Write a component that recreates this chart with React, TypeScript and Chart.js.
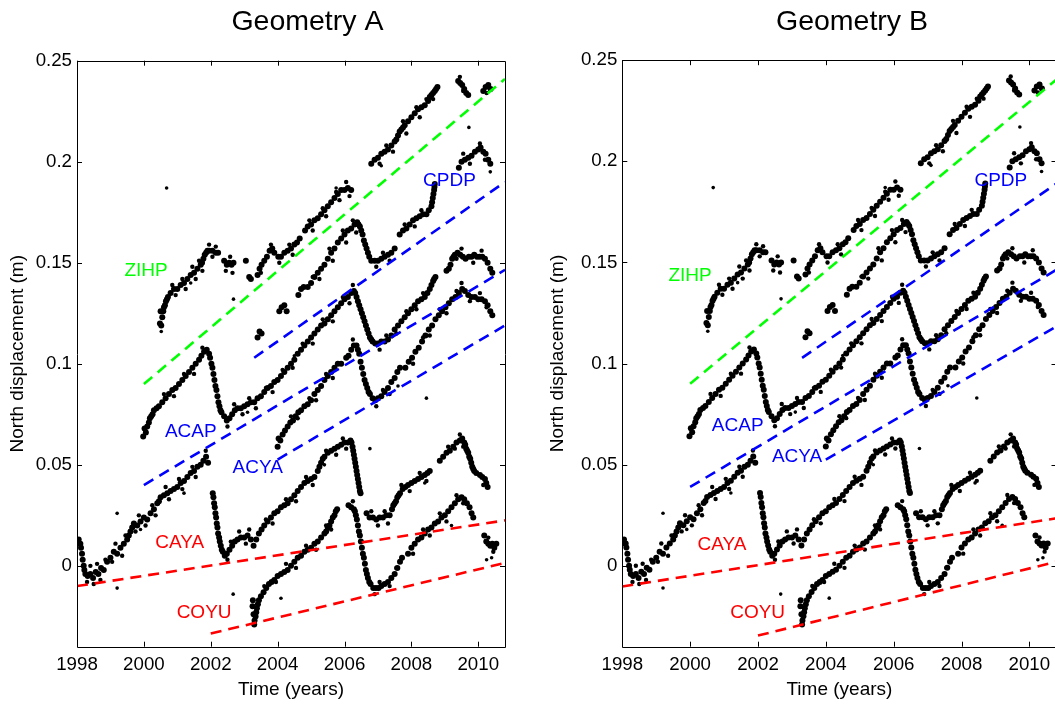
import React, { useEffect, useRef } from 'react';
import { Chart, registerables } from 'chart.js';

Chart.register(...registerables);

type P = [number, number];

const X_TICKS = [1998, 2000, 2002, 2004, 2006, 2008, 2010];
const Y_TICKS = [0, 0.05, 0.1, 0.15, 0.2, 0.25];

const ZIHP: P[] = [
  [2000.48, 0.120], [2000.50, 0.126], [2000.52, 0.119], [2000.55, 0.123], [2000.58, 0.126], [2000.60, 0.128],
  [2000.63, 0.129], [2000.66, 0.131], [2000.69, 0.132], [2000.72, 0.133],
  [2000.80, 0.135], [2000.90, 0.137], [2001.00, 0.137], [2001.10, 0.139], [2001.20, 0.140], [2001.30, 0.142],
  [2001.40, 0.144], [2001.50, 0.145], [2001.60, 0.147], [2001.70, 0.149], [2001.74, 0.150], [2001.78, 0.152],
  [2001.82, 0.154], [2001.86, 0.155], [2001.90, 0.156],
  [2001.95, 0.156], [2002.05, 0.156], [2002.15, 0.155], [2002.22, 0.155], [2002.40, 0.151], [2002.48, 0.149],
  [2002.55, 0.150], [2002.62, 0.149], [2002.68, 0.150],
  [2003.05, 0.151], [2003.15, 0.143], [2003.20, 0.142], [2003.40, 0.144], [2003.46, 0.147], [2003.52, 0.149],
  [2003.60, 0.151], [2003.68, 0.153], [2003.76, 0.156], [2003.84, 0.157], [2003.90, 0.155], [2004.02, 0.153],
  [2004.10, 0.153], [2004.20, 0.155], [2004.30, 0.156], [2004.40, 0.157], [2004.50, 0.159], [2004.58, 0.160],
  [2004.66, 0.162],
  [2004.82, 0.166], [2004.90, 0.168], [2005.00, 0.169], [2005.10, 0.171], [2005.20, 0.172], [2005.30, 0.174],
  [2005.40, 0.176], [2005.50, 0.178], [2005.60, 0.180], [2005.70, 0.182], [2005.80, 0.184], [2005.90, 0.186],
  [2006.00, 0.186], [2006.10, 0.187], [2006.20, 0.186],
  [2006.80, 0.199], [2006.90, 0.201], [2007.00, 0.202], [2007.10, 0.204], [2007.20, 0.205], [2007.30, 0.206],
  [2007.40, 0.208], [2007.50, 0.210], [2007.55, 0.211], [2007.60, 0.213], [2007.65, 0.215], [2007.70, 0.216],
  [2007.75, 0.217], [2007.80, 0.218], [2007.90, 0.220],
  [2008.00, 0.222], [2008.10, 0.224], [2008.20, 0.226], [2008.30, 0.227], [2008.40, 0.228], [2008.50, 0.230],
  [2008.55, 0.232], [2008.60, 0.233], [2008.65, 0.234], [2008.70, 0.235], [2008.74, 0.236], [2008.78, 0.237],
  [2009.40, 0.240], [2009.46, 0.239], [2009.52, 0.238], [2009.58, 0.236], [2009.64, 0.234], [2009.70, 0.233],
  [2010.15, 0.235], [2010.22, 0.237], [2010.30, 0.238], [2010.37, 0.236],
];

const CPDP: P[] = [
  [2003.40, 0.113], [2003.46, 0.116], [2003.52, 0.115],
  [2004.05, 0.126], [2004.12, 0.128], [2004.20, 0.129], [2004.27, 0.126],
  [2004.62, 0.134], [2004.70, 0.137], [2004.78, 0.138],
  [2004.90, 0.138], [2005.00, 0.140], [2005.10, 0.143], [2005.20, 0.145], [2005.30, 0.147], [2005.40, 0.149],
  [2005.50, 0.152], [2005.60, 0.155], [2005.70, 0.157], [2005.80, 0.160], [2005.90, 0.162], [2006.00, 0.164],
  [2006.10, 0.166], [2006.20, 0.167], [2006.30, 0.169], [2006.38, 0.170], [2006.42, 0.169], [2006.46, 0.168],
  [2006.50, 0.166], [2006.54, 0.164], [2006.58, 0.161], [2006.62, 0.159], [2006.66, 0.157], [2006.70, 0.155],
  [2006.74, 0.153], [2006.80, 0.151], [2006.90, 0.151], [2007.00, 0.151], [2007.10, 0.152],
  [2007.20, 0.153], [2007.30, 0.154], [2007.40, 0.155], [2007.50, 0.157],
  [2007.65, 0.164], [2007.75, 0.166], [2007.85, 0.167], [2007.95, 0.169], [2008.05, 0.171], [2008.15, 0.172],
  [2008.25, 0.173], [2008.35, 0.174], [2008.45, 0.174], [2008.52, 0.176], [2008.60, 0.178], [2008.62, 0.180],
  [2008.64, 0.182], [2008.66, 0.184], [2008.68, 0.186], [2008.69, 0.1875], [2008.70, 0.189],
  [2009.42, 0.197], [2009.50, 0.200], [2009.60, 0.201], [2009.70, 0.202], [2009.80, 0.203], [2009.90, 0.205],
  [2010.00, 0.206], [2010.07, 0.207], [2010.15, 0.205], [2010.22, 0.204], [2010.30, 0.201], [2010.36, 0.199],
];

const ACAP: P[] = [
  [1999.98, 0.064], [2000.02, 0.068], [2000.06, 0.066], [2000.10, 0.069], [2000.15, 0.071], [2000.18, 0.073],
  [2000.22, 0.074], [2000.26, 0.075], [2000.30, 0.077],
  [2000.38, 0.078], [2000.45, 0.079], [2000.55, 0.081], [2000.65, 0.083], [2000.75, 0.085], [2000.85, 0.087],
  [2000.95, 0.088], [2001.05, 0.090], [2001.15, 0.092], [2001.25, 0.094], [2001.35, 0.096], [2001.45, 0.098],
  [2001.55, 0.100], [2001.65, 0.102], [2001.72, 0.104], [2001.80, 0.106], [2001.88, 0.107], [2001.95, 0.105],
  [2001.98, 0.103], [2002.02, 0.100], [2002.05, 0.098], [2002.08, 0.095], [2002.11, 0.092], [2002.14, 0.089],
  [2002.17, 0.087], [2002.20, 0.084], [2002.23, 0.081], [2002.26, 0.079], [2002.29, 0.077], [2002.32, 0.076],
  [2002.40, 0.074], [2002.48, 0.072], [2002.56, 0.073], [2002.64, 0.075], [2002.72, 0.077], [2002.80, 0.078],
  [2002.90, 0.078], [2003.00, 0.079], [2003.10, 0.080], [2003.20, 0.081], [2003.30, 0.081], [2003.40, 0.083],
  [2003.50, 0.084], [2003.60, 0.086], [2003.70, 0.088], [2003.80, 0.089], [2003.90, 0.091], [2004.00, 0.092],
  [2004.10, 0.094], [2004.20, 0.096], [2004.30, 0.098], [2004.40, 0.100], [2004.50, 0.102], [2004.60, 0.105],
  [2004.70, 0.107], [2004.80, 0.109], [2004.90, 0.111], [2005.00, 0.113], [2005.10, 0.115], [2005.20, 0.117],
  [2005.30, 0.119], [2005.40, 0.120], [2005.50, 0.122], [2005.60, 0.124], [2005.70, 0.126], [2005.80, 0.128],
  [2005.90, 0.130], [2006.00, 0.132], [2006.10, 0.133], [2006.20, 0.135], [2006.28, 0.136], [2006.32, 0.135],
  [2006.36, 0.133], [2006.40, 0.131], [2006.44, 0.129], [2006.48, 0.127], [2006.52, 0.125], [2006.56, 0.123],
  [2006.60, 0.121], [2006.64, 0.119], [2006.68, 0.117], [2006.72, 0.115], [2006.76, 0.113], [2006.80, 0.112],
  [2006.84, 0.111], [2006.92, 0.110], [2007.00, 0.110], [2007.10, 0.111], [2007.20, 0.111], [2007.30, 0.112],
  [2007.40, 0.114], [2007.50, 0.117], [2007.60, 0.119], [2007.70, 0.121], [2007.80, 0.123], [2007.90, 0.125],
  [2008.00, 0.127], [2008.10, 0.129], [2008.20, 0.131], [2008.30, 0.132], [2008.40, 0.133], [2008.48, 0.135],
  [2008.55, 0.137], [2008.60, 0.139], [2008.65, 0.141], [2008.68, 0.142], [2008.72, 0.143],
  [2009.05, 0.146], [2009.12, 0.147], [2009.17, 0.149], [2009.22, 0.152], [2009.26, 0.153], [2009.30, 0.154],
  [2009.38, 0.155], [2009.46, 0.154],
  [2009.54, 0.153], [2009.62, 0.152], [2009.72, 0.153], [2009.80, 0.153], [2009.88, 0.154], [2009.96, 0.153],
  [2010.04, 0.153], [2010.12, 0.153], [2010.20, 0.152], [2010.28, 0.150], [2010.36, 0.147], [2010.42, 0.145],
];

const ACYA: P[] = [
  [2004.00, 0.059], [2004.03, 0.063], [2004.08, 0.062], [2004.15, 0.065], [2004.22, 0.067], [2004.30, 0.069],
  [2004.38, 0.071], [2004.46, 0.072], [2004.54, 0.074], [2004.62, 0.076], [2004.70, 0.077], [2004.80, 0.079],
  [2004.90, 0.080], [2005.00, 0.082], [2005.10, 0.085], [2005.20, 0.087], [2005.30, 0.089], [2005.40, 0.092],
  [2005.50, 0.094], [2005.60, 0.096], [2005.70, 0.098], [2005.80, 0.100], [2005.90, 0.100],
  [2006.05, 0.103], [2006.12, 0.104], [2006.20, 0.107], [2006.28, 0.109], [2006.36, 0.109], [2006.40, 0.107],
  [2006.44, 0.105], [2006.48, 0.101], [2006.52, 0.098], [2006.56, 0.095], [2006.60, 0.092], [2006.64, 0.090],
  [2006.68, 0.088], [2006.72, 0.086], [2006.76, 0.085], [2006.84, 0.083], [2006.92, 0.082],
  [2007.00, 0.083], [2007.10, 0.084], [2007.20, 0.086], [2007.30, 0.088], [2007.40, 0.091], [2007.50, 0.093],
  [2007.58, 0.096], [2007.66, 0.098],
  [2007.82, 0.098], [2007.92, 0.101], [2008.02, 0.103], [2008.12, 0.106], [2008.22, 0.108], [2008.32, 0.111],
  [2008.42, 0.114], [2008.52, 0.117], [2008.62, 0.119], [2008.72, 0.122], [2008.82, 0.124], [2008.92, 0.126],
  [2009.02, 0.128], [2009.12, 0.130], [2009.22, 0.132], [2009.32, 0.133], [2009.42, 0.135], [2009.52, 0.137],
  [2009.60, 0.136], [2009.70, 0.134], [2009.80, 0.133], [2009.90, 0.133], [2010.00, 0.132], [2010.10, 0.132],
  [2010.20, 0.131], [2010.28, 0.129], [2010.36, 0.126], [2010.42, 0.124],
];

const CAYA: P[] = [
  [1998.00, 0.011], [1998.05, 0.013], [1998.10, 0.011], [1998.12, 0.009], [1998.15, 0.006], [1998.17, 0.003],
  [1998.20, 0.000], [1998.22, -0.002], [1998.25, -0.004],
  [1998.32, -0.005], [1998.40, -0.004], [1998.48, -0.006], [1998.56, -0.003], [1998.64, -0.004], [1998.72, -0.001],
  [1998.80, -0.002], [1998.90, 0.002], [1999.00, 0.004], [1999.10, 0.007], [1999.20, 0.006], [1999.30, 0.009],
  [1999.40, 0.011], [1999.50, 0.013], [1999.55, 0.015], [1999.60, 0.017], [1999.65, 0.019], [1999.70, 0.021],
  [1999.80, 0.020], [1999.90, 0.022],
  [2000.00, 0.024], [2000.10, 0.023], [2000.20, 0.026], [2000.30, 0.028], [2000.40, 0.031], [2000.45, 0.032],
  [2000.50, 0.034],
  [2000.60, 0.035], [2000.70, 0.036], [2000.80, 0.037], [2000.90, 0.038], [2001.00, 0.039], [2001.10, 0.041],
  [2001.20, 0.042], [2001.30, 0.044], [2001.40, 0.046], [2001.50, 0.047], [2001.60, 0.049], [2001.70, 0.050],
  [2001.78, 0.052], [2001.86, 0.054], [2001.92, 0.051],
  [2002.06, 0.036], [2002.08, 0.034], [2002.10, 0.031], [2002.12, 0.029], [2002.14, 0.026], [2002.16, 0.024],
  [2002.18, 0.021], [2002.20, 0.019], [2002.22, 0.016], [2002.25, 0.014], [2002.27, 0.012], [2002.30, 0.010],
  [2002.33, 0.008], [2002.36, 0.007], [2002.42, 0.005], [2002.48, 0.006], [2002.56, 0.008], [2002.64, 0.010],
  [2002.72, 0.012],
  [2002.80, 0.013], [2002.90, 0.014], [2003.00, 0.014], [2003.10, 0.015], [2003.20, 0.013], [2003.28, 0.010],
  [2003.36, 0.013], [2003.44, 0.016], [2003.52, 0.018], [2003.60, 0.020], [2003.70, 0.022], [2003.80, 0.024],
  [2003.90, 0.026], [2004.00, 0.027], [2004.10, 0.029], [2004.20, 0.030], [2004.30, 0.031], [2004.40, 0.033],
  [2004.50, 0.035], [2004.60, 0.037], [2004.70, 0.039], [2004.80, 0.041], [2004.90, 0.042], [2005.00, 0.043],
  [2005.10, 0.044], [2005.20, 0.047], [2005.25, 0.049], [2005.30, 0.051], [2005.35, 0.053], [2005.40, 0.054],
  [2005.50, 0.056], [2005.60, 0.057],
  [2005.70, 0.058], [2005.80, 0.059], [2005.90, 0.060], [2006.00, 0.061], [2006.10, 0.061], [2006.18, 0.062],
  [2006.21, 0.061], [2006.24, 0.059], [2006.26, 0.057], [2006.28, 0.055], [2006.30, 0.053], [2006.32, 0.051],
  [2006.34, 0.049], [2006.36, 0.047], [2006.38, 0.045], [2006.40, 0.043], [2006.42, 0.041], [2006.44, 0.039],
  [2006.46, 0.037], [2006.48, 0.036],
  [2006.66, 0.026], [2006.75, 0.024], [2006.85, 0.024], [2006.95, 0.023], [2007.05, 0.024], [2007.15, 0.024],
  [2007.25, 0.025], [2007.35, 0.025], [2007.42, 0.028], [2007.46, 0.030], [2007.50, 0.031], [2007.54, 0.032],
  [2007.58, 0.034], [2007.62, 0.035], [2007.66, 0.036],
  [2007.74, 0.038], [2007.82, 0.039], [2007.90, 0.040], [2008.00, 0.041], [2008.10, 0.042], [2008.20, 0.043],
  [2008.30, 0.044], [2008.40, 0.045], [2008.48, 0.046], [2008.55, 0.047],
  [2008.85, 0.052], [2008.95, 0.054], [2009.05, 0.056], [2009.15, 0.057], [2009.25, 0.059], [2009.35, 0.061],
  [2009.45, 0.062], [2009.52, 0.063], [2009.58, 0.061], [2009.61, 0.060], [2009.64, 0.058], [2009.67, 0.057],
  [2009.70, 0.056], [2009.73, 0.054], [2009.76, 0.053], [2009.79, 0.051], [2009.82, 0.049], [2009.85, 0.048],
  [2009.88, 0.047], [2009.94, 0.046],
  [2010.05, 0.045], [2010.12, 0.044], [2010.20, 0.043], [2010.24, 0.041], [2010.28, 0.039],
];

const COYU: P[] = [
  [2003.25, -0.020], [2003.26, -0.017], [2003.28, -0.024], [2003.30, -0.029], [2003.31, -0.027], [2003.34, -0.025],
  [2003.36, -0.023], [2003.38, -0.021], [2003.41, -0.019], [2003.44, -0.017],
  [2003.50, -0.015], [2003.58, -0.013], [2003.66, -0.011], [2003.74, -0.009], [2003.82, -0.008], [2003.90, -0.007],
  [2004.00, -0.005], [2004.10, -0.004], [2004.20, -0.003], [2004.30, -0.002], [2004.40, 0.000], [2004.50, 0.002],
  [2004.60, 0.004], [2004.70, 0.005], [2004.80, 0.007], [2004.90, 0.008], [2005.00, 0.009], [2005.10, 0.011],
  [2005.20, 0.012], [2005.30, 0.014], [2005.40, 0.016], [2005.45, 0.017], [2005.50, 0.019], [2005.55, 0.020],
  [2005.60, 0.022], [2005.65, 0.024], [2005.70, 0.025], [2005.74, 0.027], [2005.78, 0.028],
  [2006.12, 0.030], [2006.20, 0.029], [2006.28, 0.028], [2006.31, 0.027], [2006.34, 0.025], [2006.37, 0.023],
  [2006.40, 0.020], [2006.43, 0.017], [2006.46, 0.015], [2006.49, 0.012], [2006.52, 0.009], [2006.55, 0.006],
  [2006.58, 0.004], [2006.61, 0.001], [2006.64, -0.002], [2006.67, -0.004], [2006.70, -0.006], [2006.74, -0.008],
  [2006.78, -0.009], [2006.86, -0.011],
  [2006.94, -0.011], [2007.02, -0.011], [2007.10, -0.010], [2007.20, -0.009], [2007.30, -0.008], [2007.40, -0.006],
  [2007.50, -0.004], [2007.58, -0.001], [2007.66, 0.002], [2007.72, 0.004],
  [2007.90, 0.006], [2008.00, 0.009], [2008.10, 0.011], [2008.20, 0.013], [2008.30, 0.014], [2008.40, 0.016],
  [2008.50, 0.018], [2008.60, 0.019], [2008.70, 0.021], [2008.80, 0.022], [2008.90, 0.024], [2009.00, 0.025],
  [2009.10, 0.027], [2009.20, 0.029], [2009.30, 0.031], [2009.40, 0.033], [2009.50, 0.034], [2009.58, 0.033],
  [2009.66, 0.031], [2009.74, 0.029], [2009.80, 0.026], [2009.85, 0.024],
  [2010.18, 0.015], [2010.24, 0.012], [2010.30, 0.011], [2010.36, 0.010], [2010.42, 0.011], [2010.48, 0.009],
  [2010.54, 0.011],
];

// scattered observations at the edges of each band
const SPREAD: P[] = [
  // ZIHP
  [2000.85, 0.139], [2000.95, 0.134], [2001.15, 0.142], [2001.25, 0.137], [2001.45, 0.148], [2001.55, 0.142],
  [2001.65, 0.151], [2001.75, 0.146], [2001.95, 0.159], [2002.05, 0.153], [2002.15, 0.158], [2002.45, 0.146],
  [2002.58, 0.153], [2002.65, 0.145], [2003.50, 0.145], [2003.80, 0.159], [2004.05, 0.150], [2004.35, 0.159],
  [2004.45, 0.154], [2004.95, 0.171], [2005.05, 0.166], [2005.35, 0.177], [2005.45, 0.173], [2005.75, 0.185],
  [2005.85, 0.181], [2006.05, 0.190], [2006.15, 0.183], [2007.05, 0.199], [2007.25, 0.208], [2007.45, 0.205],
  [2007.75, 0.220], [2007.85, 0.214], [2008.15, 0.227], [2008.25, 0.222], [2008.45, 0.231], [2008.65, 0.231],
  [2009.45, 0.242], [2009.55, 0.235], [2010.25, 0.234],
  // CPDP
  [2005.05, 0.143], [2005.25, 0.142], [2005.55, 0.157], [2005.65, 0.151], [2005.95, 0.166], [2006.05, 0.160],
  [2006.25, 0.171], [2006.35, 0.165], [2006.95, 0.148], [2007.15, 0.155], [2007.35, 0.151], [2007.80, 0.169],
  [2008.10, 0.168], [2008.30, 0.176], [2009.55, 0.204], [2009.75, 0.199], [2010.05, 0.209], [2010.20, 0.201],
  // ACAP
  [2000.60, 0.085], [2000.90, 0.084], [2001.20, 0.095], [2001.50, 0.095], [2001.75, 0.108], [2002.50, 0.069],
  [2002.70, 0.080], [2002.95, 0.075], [2003.15, 0.083], [2003.35, 0.078], [2003.65, 0.088], [2003.85, 0.086],
  [2004.15, 0.097], [2004.45, 0.098], [2004.75, 0.110], [2005.05, 0.110], [2005.35, 0.122], [2005.65, 0.121],
  [2005.95, 0.133], [2006.15, 0.130], [2006.25, 0.139], [2007.05, 0.107], [2007.25, 0.114], [2007.55, 0.115],
  [2007.85, 0.126], [2008.15, 0.127], [2008.35, 0.135], [2009.35, 0.152], [2009.50, 0.157], [2009.85, 0.150],
  [2010.10, 0.156],
  // ACYA
  [2004.40, 0.074], [2004.60, 0.073], [2004.95, 0.083], [2005.15, 0.082], [2005.45, 0.095], [2005.65, 0.093],
  [2006.25, 0.112], [2006.95, 0.079], [2007.15, 0.087], [2007.35, 0.085], [2008.05, 0.100], [2008.35, 0.113],
  [2008.55, 0.114], [2008.85, 0.127], [2009.05, 0.125], [2009.35, 0.136], [2009.50, 0.140], [2009.75, 0.131],
  [2010.05, 0.135], [2010.25, 0.128],
  // CAYA
  [1998.30, -0.008], [1998.40, 0.000], [1998.50, -0.009], [1998.60, 0.001], [1998.70, -0.007], [1998.85, 0.003],
  [1999.05, 0.002], [1999.15, 0.011], [1999.35, 0.005], [1999.45, 0.015], [1999.75, 0.017], [1999.85, 0.025],
  [2000.05, 0.020], [2000.25, 0.030], [2000.35, 0.025], [2000.65, 0.039], [2000.75, 0.033], [2001.05, 0.043],
  [2001.15, 0.038], [2001.45, 0.049], [2001.55, 0.044], [2001.85, 0.057], [2002.50, 0.003], [2002.60, 0.012],
  [2002.85, 0.017], [2003.05, 0.011], [2003.15, 0.018], [2003.65, 0.023], [2003.85, 0.021], [2004.25, 0.033],
  [2004.55, 0.032], [2004.85, 0.044], [2005.05, 0.040], [2005.45, 0.057], [2005.75, 0.055], [2005.95, 0.063],
  [2006.05, 0.058], [2006.80, 0.027], [2007.00, 0.020], [2007.20, 0.027], [2007.30, 0.021], [2007.70, 0.040],
  [2007.95, 0.037], [2008.25, 0.046], [2008.45, 0.042], [2009.10, 0.059], [2009.30, 0.058], [2009.45, 0.065],
  [2009.55, 0.059], [2010.15, 0.040],
  // COYU
  [2003.60, -0.010], [2003.95, -0.008], [2004.25, 0.001], [2004.55, -0.001], [2004.85, 0.010], [2005.15, 0.008],
  [2005.45, 0.020], [2005.60, 0.018], [2006.25, 0.032], [2006.90, -0.014], [2007.05, -0.008], [2007.35, -0.010],
  [2007.55, -0.001], [2008.05, 0.006], [2008.35, 0.018], [2008.55, 0.015], [2008.85, 0.026], [2009.05, 0.022],
  [2009.35, 0.035], [2009.55, 0.031], [2010.30, 0.014], [2010.45, 0.007],
];

const OUTLIERS: P[] = [
  [2000.68, 0.187], [2002.68, 0.132], [2009.72, 0.217], [2010.36, 0.195], [1999.20, 0.026], [1999.20, -0.011],
  [2002.67, -0.014], [2004.10, -0.016], [2008.45, 0.083], [2010.25, 0.003], [2010.40, 0.004], [2006.76, 0.058],
  [2000.52, 0.116], [2001.40, 0.140], [2005.75, 0.187], [2007.10, 0.198], [2003.10, 0.076], [2004.50, 0.104],
  [2007.60, 0.089], [2008.40, 0.041], [2005.40, 0.050], [2001.20, 0.036], [1999.90, 0.018], [2009.20, 0.020],
];

// ---- dashed reference lines (start, end) ----
const FIT_A = {
  ZIHP: [[2000, 0.090], [2010.8, 0.241]] as P[],
  CPDP: [[2003.3, 0.103], [2010.8, 0.190]] as P[],
  ACAP: [[2000, 0.040], [2010.8, 0.1465]] as P[],
  ACYA: [[2004, 0.0526], [2010.8, 0.119]] as P[],
  CAYA: [[1998, -0.010], [2010.8, 0.0225]] as P[],
  COYU: [[2002, -0.0335], [2010.8, 0.0015]] as P[],
};
const FIT_B = {
  ZIHP: [[2000, 0.090], [2010.8, 0.2405]] as P[],
  CPDP: [[2003.3, 0.1028], [2010.8, 0.189]] as P[],
  ACAP: [[2000, 0.039], [2010.8, 0.1464]] as P[],
  ACYA: [[2004, 0.0525], [2010.8, 0.1184]] as P[],
  CAYA: [[1998, -0.0102], [2010.8, 0.0235]] as P[],
  COYU: [[2002, -0.0345], [2010.8, 0.002]] as P[],
};

const STATION_COLOR: Record<string, string> = {
  ZIHP: '#00ff00', CPDP: '#0000ff', ACAP: '#0000ff', ACYA: '#0000ff', CAYA: '#ff0000', COYU: '#ff0000',
};

// label anchors (left/baseline) in data units
const LABELS_A: [string, number, number][] = [
  ['ZIHP', 1999.42, 0.1433], ['CPDP', 2008.35, 0.1879], ['ACAP', 2000.63, 0.0639],
  ['ACYA', 2002.65, 0.0460], ['CAYA', 2000.34, 0.0088], ['COYU', 2000.98, -0.0260],
];
const LABELS_B: [string, number, number][] = [
  ['ZIHP', 1999.36, 0.1410], ['CPDP', 2008.38, 0.1878], ['ACAP', 2000.64, 0.0665],
  ['ACYA', 2002.41, 0.0515], ['CAYA', 2000.22, 0.0078], ['COYU', 2001.18, -0.0256],
];

const FONT = '"Liberation Sans", Arial, Helvetica, sans-serif';
const W = 530;
const H = 705;

const decorPlugin = {
  id: 'decor',
  afterDatasetsDraw(chart: any, _args: any, opts: any) {
    const { ctx, chartArea } = chart;
    const { left, right, top, bottom } = chartArea;
    const xs = chart.scales.x;
    const ys = chart.scales.y;
    ctx.save();
    ctx.font = `19px ${FONT}`;
    ctx.textAlign = 'left';
    ctx.textBaseline = 'alphabetic';
    for (const [name, lx, ly] of opts.labels as [string, number, number][]) {
      ctx.fillStyle = STATION_COLOR[name];
      ctx.fillText(name, xs.getPixelForValue(lx), ys.getPixelForValue(ly));
    }
    ctx.strokeStyle = '#000';
    ctx.lineWidth = 1;
    ctx.beginPath();
    ctx.rect(Math.round(left) + 0.5, Math.round(top) + 0.5, Math.round(right - left), Math.round(bottom - top));
    ctx.stroke();
    const tl = 5;
    ctx.beginPath();
    for (const t of xs.ticks) {
      const px = Math.round(xs.getPixelForValue(t.value)) + 0.5;
      ctx.moveTo(px, bottom); ctx.lineTo(px, bottom - tl);
      ctx.moveTo(px, top); ctx.lineTo(px, top + tl);
    }
    for (const t of ys.ticks) {
      const py = Math.round(ys.getPixelForValue(t.value)) + 0.5;
      ctx.moveTo(left, py); ctx.lineTo(left + tl, py);
      ctx.moveTo(right, py); ctx.lineTo(right - tl, py);
    }
    ctx.stroke();
    ctx.fillStyle = '#000';
    ctx.font = `28.5px ${FONT}`;
    ctx.textAlign = 'center';
    ctx.textBaseline = 'alphabetic';
    ctx.fillText(opts.title, opts.titleX, 30);
    ctx.restore();
  },
};

function makeConfig(fits: Record<string, P[]>, labels: [string, number, number][], title: string,
  titleX: number, padLeft: number, padRight: number, padTop: number): any {
  const lineSets = Object.keys(fits).map((k) => ({
    type: 'scatter',
    label: k + ' fit',
    data: fits[k].map(([x, y]) => ({ x, y })),
    showLine: true,
    borderColor: STATION_COLOR[k],
    borderWidth: 2.6,
    borderDash: [11, 7],
    pointRadius: 0,
    fill: false,
    order: 0,
  }));
  const series: Record<string, P[]> = { ZIHP, CPDP, ACAP, ACYA, CAYA, COYU, SPREAD, OUT: OUTLIERS };
  const radius: Record<string, number> = { SPREAD: 2.2, OUT: 1.8 };
  const dotSets = Object.keys(series).map((k) => ({
    type: 'scatter',
    label: k,
    data: series[k].map(([x, y]) => ({ x, y })),
    backgroundColor: '#000',
    borderWidth: 0,
    pointRadius: radius[k] ?? 3,
    order: 1,
  }));
  return {
    type: 'scatter',
    data: { datasets: [...lineSets, ...dotSets] },
    plugins: [decorPlugin],
    options: {
      animation: false,
      responsive: false,
      devicePixelRatio: 1,
      events: [],
      layout: { padding: { left: 0, right: padRight, top: padTop, bottom: 0 } },
      plugins: {
        legend: { display: false },
        tooltip: { enabled: false },
        title: { display: false },
        decor: { labels, title, titleX },
      },
      scales: {
        x: {
          type: 'linear',
          position: 'bottom',
          min: 1998,
          max: 2010.8,
          afterBuildTicks: (s: any) => { s.ticks = X_TICKS.map((v) => ({ value: v })); },
          afterFit: (s: any) => { s.height = H - 646.7; },
          grid: { display: false, drawTicks: false },
          border: { display: false },
          ticks: {
            color: '#000',
            padding: 7,
            maxRotation: 0,
            autoSkip: false,
            font: { family: FONT, size: 18.7 },
            callback: (v: any) => String(v),
          },
          title: {
            display: true,
            text: 'Time (years)',
            color: '#000',
            font: { family: FONT, size: 19 },
            padding: { top: 0, bottom: 4 },
          },
        },
        y: {
          type: 'linear',
          position: 'left',
          min: -0.04,
          max: 0.25,
          afterBuildTicks: (s: any) => { s.ticks = Y_TICKS.map((v) => ({ value: v })); },
          afterFit: (s: any) => { s.width = padLeft; },
          grid: { display: false, drawTicks: false },
          border: { display: false },
          ticks: {
            color: '#000',
            padding: 5,
            autoSkip: false,
            font: { family: FONT, size: 18.7 },
            callback: (v: any) => String(parseFloat(Number(v).toFixed(4))),
          },
          title: {
            display: true,
            text: 'North displacement (m)',
            color: '#000',
            font: { family: FONT, size: 19 },
            padding: { top: 6, bottom: 0 },
          },
        },
      },
    },
  };
}

function Panel(props: { left: number; build: () => any }) {
  const ref = useRef<HTMLCanvasElement | null>(null);
  useEffect(() => {
    if (!ref.current) return;
    const chart = new Chart(ref.current, props.build());
    return () => chart.destroy();
  }, []);
  return (
    <canvas
      ref={ref}
      width={W}
      height={H}
      style={{ position: 'absolute', left: props.left, top: 0, width: W, height: H }}
    />
  );
}

export default function App() {
  return (
    <div
      style={{
        position: 'absolute', left: 0, top: 0, width: 1055, height: 705,
        overflow: 'hidden', background: '#fff',
      }}
    >
      <Panel left={0} build={() => makeConfig(FIT_A, LABELS_A, 'Geometry A', 307.4, 77, W - 505, 60.7)} />
      <Panel left={540} build={() => makeConfig(FIT_B, LABELS_B, 'Geometry B', 312, 82.3, W - 516.5, 60.2)} />
    </div>
  );
}
